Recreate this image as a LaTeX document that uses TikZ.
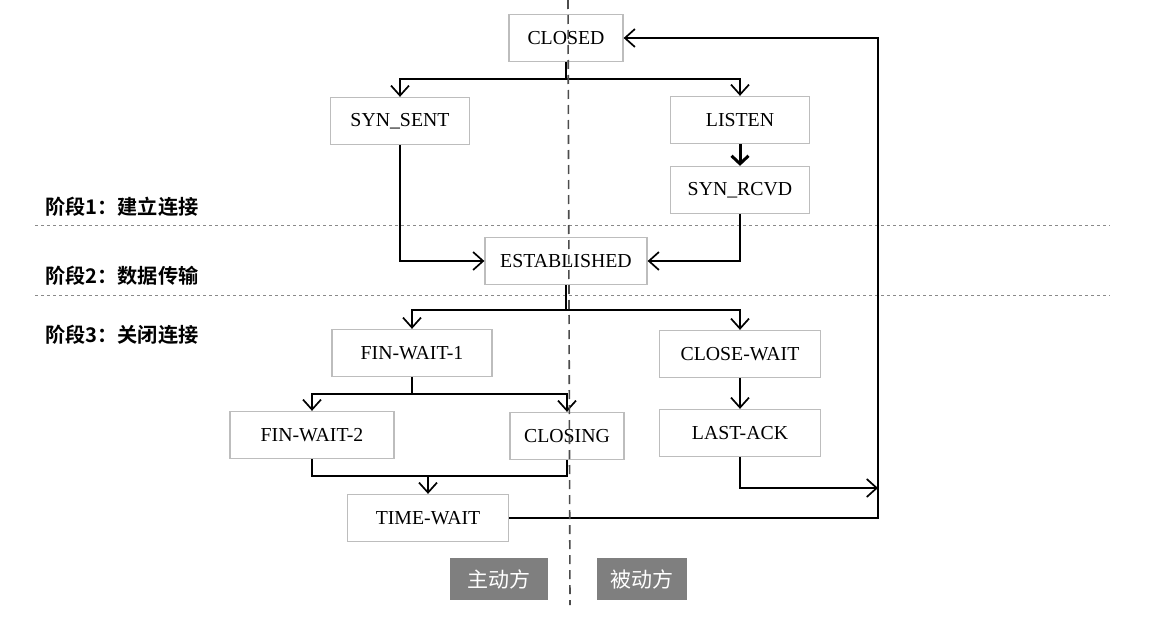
\documentclass[tikz,border=0pt]{standalone}
\usepackage{fontspec}
\setmainfont{Liberation Serif}
\newfontfamily\cjk{Noto Sans CJK SC}
\newfontfamily\cjkb{Noto Sans CJK SC Bold}
\usetikzlibrary{arrows.meta}
\definecolor{boxline}{HTML}{BDBDBD}
\definecolor{tagfill}{HTML}{7F7F7F}
\definecolor{divline}{HTML}{8A8A8A}
\tikzset{
  state/.style={draw=boxline, line width=1.3pt, minimum width=#1, minimum height=47pt,
    inner sep=0pt, font=\fontsize{19.8}{22}\selectfont},
  state/.default=160pt,
  arr/.style={line width=1.7pt, -{Straight Barb[length=10pt,width=18pt]}},
  thickarr/.style={line width=3pt, -{Straight Barb[length=8pt,width=17pt]}},
  link/.style={line width=1.7pt},
  phase/.style={anchor=west, inner sep=0pt, font=\cjkb\fontsize{20.2}{23}\selectfont},
  tag/.style={fill=tagfill, text=white, minimum height=42pt, inner sep=0pt,
    font=\cjk\fontsize{21}{24}\selectfont},
  divider/.style={draw=divline, line width=1pt, dash pattern=on 3pt off 3pt},
  midline/.style={draw=black!70, line width=1.6pt, dash pattern=on 9pt off 6pt}
}
\begin{document}
\begin{tikzpicture}[x=1pt,y=-1pt]
\useasboundingbox (0,0) rectangle (1151,618);
% phase dividers
\draw[divider] (35,225) -- (1110,225);
\draw[divider] (35,295) -- (1110,295);
\node[phase] (p1) at (45,207) {阶段1：建立连接};
\node[phase] (p2) at (45,276) {阶段2：数据传输};
\node[phase] (p3) at (45,335) {阶段3：关闭连接};
% states
\node[state=114pt] (closed) at (566,38) {CLOSED};
\node[state=139pt] (synsent) at (400,121) {SYN\_SENT};
\node[state=139pt] (listen) at (740,120) {LISTEN};
\node[state=139pt] (synrcvd) at (740,190) {SYN\_RCVD};
\node[state=162pt] (est) at (566,261) {ESTABLISHED};
\node[state=160pt] (fw1) at (412,353) {FIN-WAIT-1};
\node[state=161pt] (cw) at (740,354) {CLOSE-WAIT};
\node[state=164pt] (fw2) at (312,435) {FIN-WAIT-2};
\node[state=114pt] (closing) at (567,436) {CLOSING};
\node[state=161pt] (lastack) at (740,433) {LAST-ACK};
\node[state=161pt] (tw) at (428,518) {TIME-WAIT};
% tags
\node[tag, minimum width=98pt] (active) at (499,579) {主动方};
\node[tag, minimum width=90pt] (passive) at (642,579) {被动方};
% helper coordinates
\coordinate (join) at (428,476);
\coordinate (rmid) at (878,488);
\coordinate (rtop) at (878,38);
% connectors
\draw[arr] (closed.south) -- ++(0,17) -| (synsent.north);
\draw[arr] (closed.south) -- ++(0,17) -| (listen.north);
\draw[thickarr] (listen.south) -- (synrcvd.north);
\draw[arr] (synsent.south) |- (est.west);
\draw[arr] (synrcvd.south) |- (est.east);
\draw[arr] (est.south) -- ++(0,25) -| (fw1.north);
\draw[arr] (est.south) -- ++(0,25) -| (cw.north);
\draw[arr] (fw1.south) -- ++(0,17) -| (fw2.north);
\draw[arr] (fw1.south) -- ++(0,17) -| (closing.north);
\draw[arr] (cw.south) -- (lastack.north);
\draw[link] (fw2.south) |- (join) -| (closing.south);
\draw[arr] (join) -- (tw.north);
\draw[arr] (lastack.south) |- (rmid);
\draw[arr] (tw.east) -| (rtop) -- (closed.east);
% centre divider
\draw[midline] (568,0) -- (570,605);
\end{tikzpicture}
\end{document}
